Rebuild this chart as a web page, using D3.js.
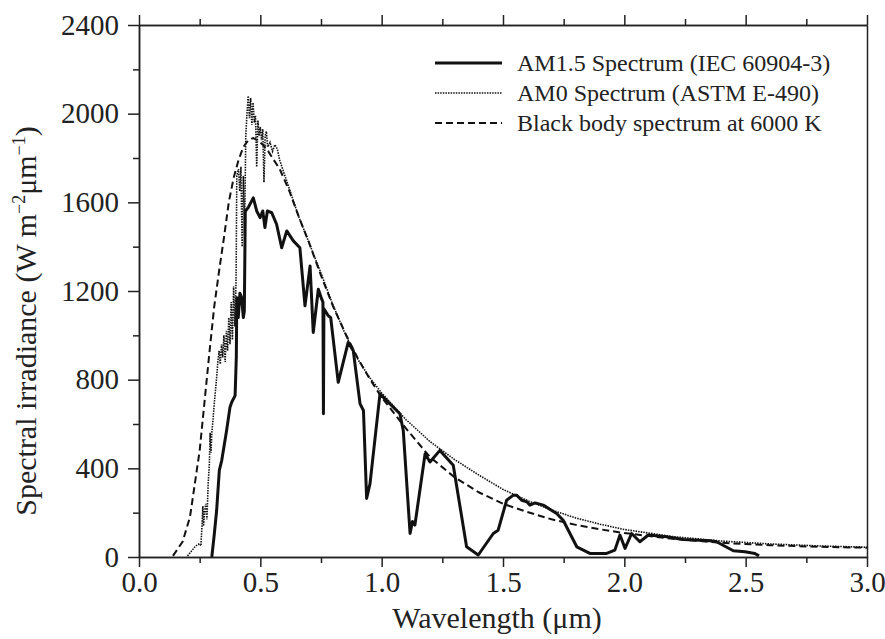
<!DOCTYPE html>
<meta charset="utf-8">
<style>
body { margin: 0; background: #fff; }
text { font-family: "Liberation Serif", "Times New Roman", serif; fill: #222; }
.axis path, .axis line { stroke: #222; stroke-width: 1.5px; }
.axis text { font-size: 29px; font-family: "Liberation Serif", serif; fill: #222; }
.line { fill: none; stroke: #111; }
</style>
<body>
<div id="main"></div>
<script src="https://d3js.org/d3.v7.min.js"></script>
<script>

// AM1.5 spectrum (IEC 60904-3)
var am15Wl = [0.30, 0.31, 0.32, 0.331, 0.341, 0.361, 0.375, 0.382, 0.396, 0.401, 0.403, 0.409, 0.416, 0.423, 0.43, 0.434, 0.438, 0.45, 0.457, 0.471, 0.485, 0.499, 0.51, 0.519, 0.529, 0.547, 0.567, 0.588, 0.609, 0.636, 0.663, 0.684, 0.705, 0.718, 0.739, 0.753, 0.758, 0.760, 0.762, 0.78, 0.79, 0.821, 0.862, 0.883, 0.911, 0.925, 0.938, 0.952, 0.993, 1.075, 1.089, 1.117, 1.127, 1.137, 1.179, 1.199, 1.24, 1.295, 1.35, 1.398, 1.46, 1.48, 1.515, 1.543, 1.556, 1.577, 1.598, 1.611, 1.632, 1.666, 1.721, 1.748, 1.804, 1.858, 1.927, 1.961, 1.982, 2.003, 2.03, 2.064, 2.099, 2.174, 2.243, 2.353, 2.38, 2.449, 2.497, 2.538, 2.555];
var am15Val = [0, 100, 211, 391, 436, 571, 676, 698, 728, 900, 1170, 1080, 1190, 1170, 1080, 1110, 1560, 1576, 1591, 1620, 1561, 1531, 1561, 1486, 1561, 1553, 1501, 1395, 1471, 1426, 1395, 1133, 1313, 1013, 1208, 1163, 1150, 646, 1120, 1088, 1080, 788, 968, 931, 691, 661, 264, 331, 736, 646, 571, 106, 160, 144, 466, 429, 481, 414, 46, 9, 106, 121, 256, 279, 279, 256, 249, 234, 244, 234, 196, 166, 46, 16, 16, 31, 99, 39, 106, 69, 99, 91, 79, 73, 69, 28, 24, 16, 5];

// AM0 spectrum (ASTM E-490)
var am0Wl = [0.20, 0.215, 0.23, 0.24, 0.25, 0.255, 0.26, 0.263, 0.266, 0.27, 0.275, 0.28, 0.285, 0.29, 0.293, 0.297, 0.30, 0.305, 0.31, 0.315, 0.32, 0.325, 0.33, 0.335, 0.34, 0.345, 0.35, 0.355, 0.36, 0.365, 0.37, 0.375, 0.38, 0.385, 0.39, 0.395, 0.40, 0.403, 0.41, 0.415, 0.42, 0.425, 0.43, 0.435, 0.44, 0.445, 0.45, 0.455, 0.46, 0.465, 0.47, 0.475, 0.48, 0.485, 0.49, 0.495, 0.50, 0.505, 0.51, 0.515, 0.52, 0.525, 0.53, 0.54, 0.55, 0.56, 0.57, 0.58, 0.595, 0.62, 0.66, 0.70, 0.75, 0.80, 0.85, 0.90, 0.95, 1.0, 1.1, 1.2, 1.3, 1.4, 1.5, 1.6, 1.7, 1.8, 1.9, 2.0, 2.2, 2.4, 2.6, 2.8, 3.0];
var am0Val = [5, 25, 45, 55, 60, 50, 150, 230, 140, 200, 240, 170, 330, 420, 560, 470, 560, 620, 690, 750, 810, 880, 930, 870, 960, 900, 1000, 880, 1020, 930, 1080, 960, 1150, 980, 1220, 1040, 1250, 1720, 1750, 1650, 1760, 1400, 1720, 1450, 1900, 2000, 2080, 1980, 2070, 1950, 2050, 1960, 1990, 1760, 1970, 1900, 1940, 1880, 1930, 1690, 1900, 1920, 1850, 1870, 1830, 1860, 1840, 1790, 1740, 1660, 1530, 1420, 1280, 1135, 1005, 895, 810, 740, 620, 520, 440, 370, 305, 255, 212, 176, 148, 124, 92, 72, 59, 50, 44];

// black body at 6000 K
var bbWl = [0.14, 0.18, 0.21, 0.23, 0.25, 0.27, 0.29, 0.31, 0.33, 0.35, 0.37, 0.39, 0.41, 0.43, 0.45, 0.47, 0.49, 0.51, 0.53, 0.55, 0.58, 0.62, 0.66, 0.70, 0.75, 0.80, 0.85, 0.90, 0.95, 1.00, 1.10, 1.20, 1.30, 1.40, 1.50, 1.60, 1.70, 1.80, 1.90, 2.00, 2.20, 2.40, 2.60, 2.80, 3.00];
var bbVal = [5, 70, 180, 330, 480, 700, 920, 1130, 1290, 1440, 1600, 1710, 1790, 1850, 1880, 1890, 1880, 1860, 1835, 1800, 1750, 1650, 1530, 1420, 1270, 1130, 1010, 900, 805, 720, 580, 450, 360, 292, 240, 203, 170, 145, 125, 108, 82, 64, 53, 46, 42];

var xTicks = [0, 0.5, 1.0, 1.5, 2.0, 2.5, 3.0];
var xMinor = [0.25, 0.75, 1.25, 1.75, 2.25, 2.75];
var yTicks = [0, 400, 800, 1200, 1600, 2000, 2400];
var yMinor = [200, 600, 1000, 1400, 1800, 2200];

var legendNames = ["AM1.5 Spectrum (IEC 60904-3)", "AM0 Spectrum (ASTM E-490)", "Black body spectrum at 6000 K"];

var margin = {top: 25, right: 18, bottom: 82, left: 139},
    width = 885 - margin.left - margin.right,
    height = 639 - margin.top - margin.bottom;

var x = d3.scaleLinear().domain([0, 3]).range([0, width]);
var y = d3.scaleLinear().domain([0, 2400]).range([height, 0]);

var svg = d3.select("#main").append("svg")
    .attr("width", 885)
    .attr("height", 639)
  .append("g")
    .attr("transform", "translate(" + margin.left + "," + margin.top + ")");

// axes, ticks pointing out
svg.append("g").attr("class", "axis")
  .attr("transform", `translate(0, ${height})`)
  .call(d3.axisBottom(x).tickValues(xTicks).tickSize(10).tickSizeOuter(0).tickPadding(4).tickFormat(d3.format(".1f")));
svg.append("g").attr("class", "axis")
  .attr("transform", `translate(0, ${height})`)
  .call(d3.axisBottom(x).tickValues(xMinor).tickSize(6).tickSizeOuter(0).tickFormat(""));

svg.append("g").attr("class", "axis")
  .call(d3.axisLeft(y).tickValues(yTicks).tickSize(11).tickSizeOuter(0).tickPadding(9).tickFormat(d3.format("d")));
svg.append("g").attr("class", "axis")
  .call(d3.axisLeft(y).tickValues(yMinor).tickSize(6).tickSizeOuter(0).tickFormat(""));

svg.append("g").attr("class", "axis")
  .call(d3.axisTop(x).tickValues(xTicks).tickSize(10).tickSizeOuter(0).tickFormat(""));
svg.append("g").attr("class", "axis")
  .call(d3.axisTop(x).tickValues(xMinor).tickSize(6).tickSizeOuter(0).tickFormat(""));

svg.append("g").attr("class", "axis")
  .attr("transform", `translate(${width}, 0)`)
  .call(d3.axisRight(y).tickValues([]).tickSizeOuter(0));

// the curves
var line = d3.line().x(d => x(d[0])).y(d => y(d[1]));

svg.append("path")
  .datum(d3.zip(bbWl, bbVal))
  .attr("class", "line")
  .attr("stroke-width", 2)
  .attr("stroke-dasharray", "7,4")
  .attr("d", line);

svg.append("path")
  .datum(d3.zip(am0Wl, am0Val))
  .attr("class", "line")
  .attr("stroke-width", 1.6)
  .attr("stroke-dasharray", "1.5,1.1")
  .attr("d", line);

svg.append("path")
  .datum(d3.zip(am15Wl, am15Val))
  .attr("class", "line")
  .attr("stroke-width", 3)
  .attr("stroke-linejoin", "round")
  .attr("d", line);

// legend
var legStyles = [
  {w: 3, dash: null},
  {w: 1.6, dash: "1.5,1.1"},
  {w: 2, dash: "7,4"}
];
var leg = svg.append("g").attr("transform", "translate(296, 38)");
legendNames.forEach(function(name, i) {
  var row = leg.append("g").attr("transform", `translate(0, ${i * 30})`);
  row.append("line")
    .attr("x1", 0).attr("x2", 67)
    .attr("stroke", "#111")
    .attr("stroke-width", legStyles[i].w)
    .attr("stroke-dasharray", legStyles[i].dash);
  row.append("text")
    .attr("x", 82).attr("y", 8)
    .style("font-size", "24px")
    .text(name);
});

// axis titles
svg.append("text")
  .attr("text-anchor", "middle")
  .attr("x", width / 2 - 6)
  .attr("y", height + 71)
  .style("font-size", "30px")
  .text("Wavelength (\u03bcm)");

var yl = svg.append("text")
  .attr("text-anchor", "middle")
  .attr("transform", `translate(-103, ${height / 2 + 30}) rotate(-90)`)
  .style("font-size", "30px");
yl.append("tspan").text("Spectral irradiance (W m");
yl.append("tspan").attr("dy", -11).style("font-size", "18px").text("\u22122");
yl.append("tspan").attr("dy", 11).text("\u03bcm");
yl.append("tspan").attr("dy", -11).style("font-size", "18px").text("\u22121");
yl.append("tspan").attr("dy", 11).text(")");

</script>
</body>
